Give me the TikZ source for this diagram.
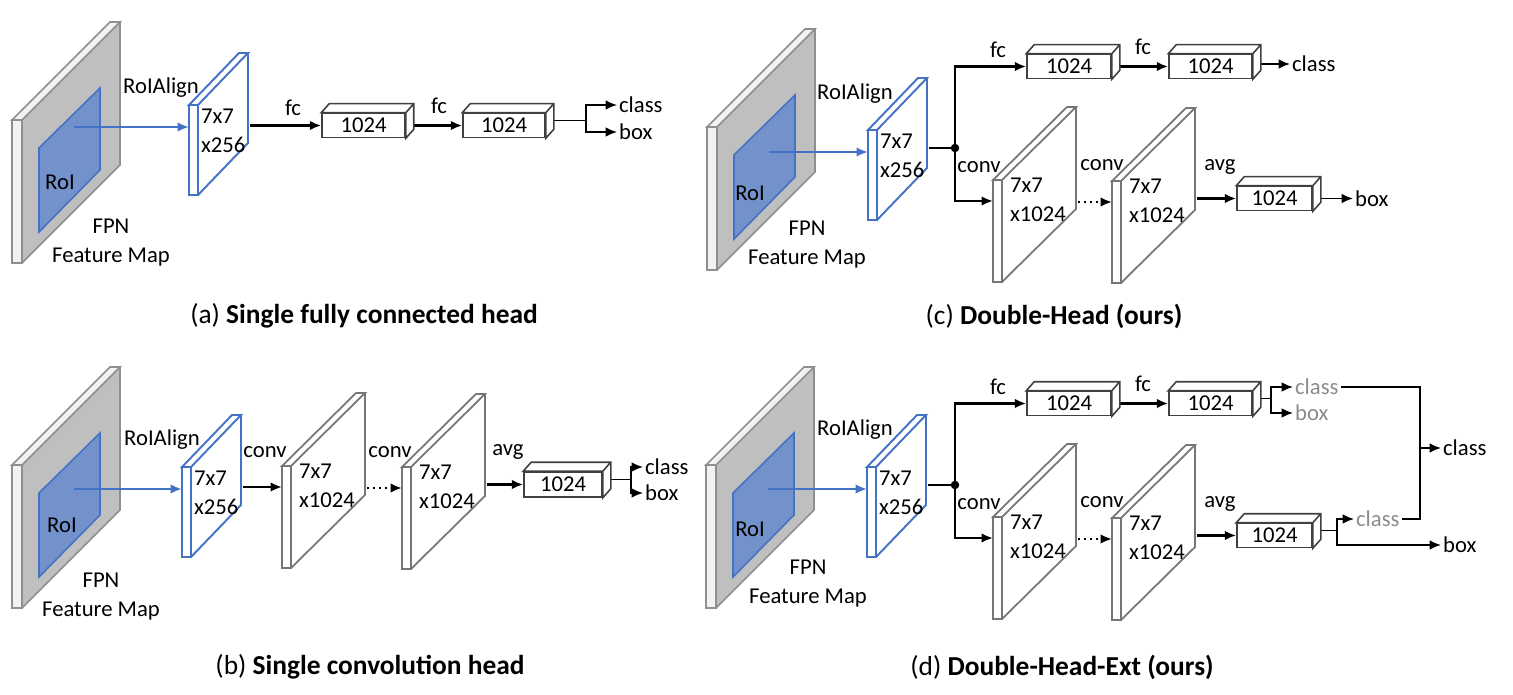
\documentclass[tikz,border=0pt]{standalone}
\usepackage{fontspec}
\setmainfont{Carlito}
\usetikzlibrary{arrows.meta}
\definecolor{roiblue}{HTML}{4472C4}
\definecolor{roifill}{HTML}{7391CB}
\definecolor{mapgray}{HTML}{BFBFBF}
\definecolor{mapside}{HTML}{F2F2F2}
\definecolor{mapedge}{HTML}{8F8F8F}
\definecolor{convedge}{HTML}{767676}
\definecolor{cubeedge}{HTML}{404040}
\definecolor{labelgray}{HTML}{8C8C8C}

\begin{document}
\begin{tikzpicture}[x=0.02cm, y=-0.02cm, >={Latex[length=6.5pt,width=5.5pt]},%
        lbl/.style={font=\fontsize{12.9}{16.5}\selectfont, inner sep=1pt},
        glbl/.style={lbl, text=labelgray},
        captxt/.style={font=\fontsize{15.6}{18}\selectfont, inner sep=0pt},
        cube/.style={lbl, draw=cubeedge, line width=0.9pt, fill=white, minimum width=1.66cm, minimum height=0.48cm},
        arr/.style={line width=1.4pt, ->},
        farr/.style={line width=0.9pt, ->},
        roiarr/.style={draw=roiblue, line width=1.3pt, ->},
        jdot/.style={circle, fill, inner sep=0pt, minimum size=0.17cm},
        fmap/.pic={
                \fill[mapgray] (10,0) -- (108,-98) -- (108,45) -- (10,143) -- cycle;
                \draw[mapedge, fill=mapside, line width=0.9pt] (0,0) rectangle (10,143) (0,0) -- (98,-98) -- (108,-98) -- (10,0) -- cycle;
                \draw[mapedge, line width=0.9pt] (108,-98) -- (108,45) -- (10,143);
                \draw[roiblue, fill=roifill, line width=0.9pt] (27,28) -- (88,-32) -- (88,50) -- (27,112) -- cycle;
                \coordinate (-roi) at (62,0);
        },
        roislab/.pic={
                \draw[roiblue, fill=white, line width=1.1pt] (0,0) rectangle (9,90) (0,0) -- (50,-52) -- (59,-52) -- (9,0) -- cycle (59,-52) -- (59,38) -- (9,90);
                \coordinate (-in) at (0,22);
                \coordinate (-out) at (61,0);
                \node[lbl, anchor=west, align=left] (-t) at (10,26) {7x7\\x256};
        },
        convslab/.pic={
                \draw[convedge, fill=white, line width=1pt] (0,0) rectangle (9,102) (0,0) -- (74,-73) -- (83,-73) -- (9,0) -- cycle (83,-73) -- (83,29) -- (9,102);
                \coordinate (-in) at (0,21);
                \coordinate (-out) at (85,21);
                \node[lbl, anchor=west, align=left] (-t) at (15,20) {7x7\\x1024};
        }]
        \useasboundingbox (0,0) rectangle (1513,695);

        % (a)
        \pic (ma) at (12,120) {fmap};
        \pic (sa) at (189,105) {roislab};
        \node[lbl] (ra) at (60,182) {RoI};
        \node[lbl] (ga) at (161,88) {RoIAlign};
        \node[lbl, align=center] (na) at (111,243) {FPN\\Feature Map};
        \node[cube] (a1) at (363.5,125.5) {1024};
        \node[cube, minimum width=1.64cm] (a2) at (504,125.5) {1024};
        \node[lbl] (fa1) at (293,108) {fc};
        \node[lbl] (fa2) at (439,106) {fc};
        \node[lbl, anchor=west] (acls) at (617,105) {class};
        \node[lbl, anchor=west] (abox) at (617,132) {box};
        \draw[roiarr] (sa-in -| ma-roi) -- (sa-in);
        \draw[arr] (a1.west -| sa-out) -- (a1.west);
        \draw[arr] ([shift={(8,0)}]a1.east) -- (a2.west);
        \draw[line width=0.9pt] ([shift={(8,-5)}]a2.east) -- ++(32,0) coordinate (ka);
        \draw[farr] (ka) |- (acls.west);
        \draw[farr] (ka) |- (abox.west);
        \node[captxt] (capa) at (364,316) {(a) \textbf{Single fully connected head}};

        % (b)
        \pic (mb) at (12,465) {fmap};
        \pic (sb) at (182,467) {roislab};
        \pic (cb1) at (282,466) {convslab};
        \pic (cb2) at (402,467) {convslab};
        \node[lbl] (rb) at (62,525) {RoI};
        \node[lbl] (gb) at (162,440) {RoIAlign};
        \node[lbl, align=center] (nb) at (101,597) {FPN\\Feature Map};
        \node[cube, minimum width=1.56cm, minimum height=0.5cm] (b1) at (563,484.5) {1024};
        \node[lbl] (vb1) at (265,452) {conv};
        \node[lbl] (vb2) at (390,452) {conv};
        \node[lbl] (vb3) at (508,452) {avg};
        \node[lbl, anchor=west] (bcls) at (643,467) {class};
        \node[lbl, anchor=west] (bbox) at (643,493) {box};
        \draw[roiarr] (sb-in -| mb-roi) -- (sb-in);
        \draw[arr] (cb1-in -| sb-out) -- (cb1-in);
        \draw[arr, dotted] (cb2-in -| cb1-out) -- (cb2-in);
        \draw[arr] (b1.west -| cb2-out) -- (b1.west);
        \draw[line width=0.9pt] ([shift={(8,-5)}]b1.east) -- ++(20,0) coordinate (kb);
        \draw[farr] (kb) |- (bcls.west);
        \draw[farr] (kb) |- (bbox.west);
        \node[captxt] (capb) at (370,667) {(b) \textbf{Single convolution head}};

        % (c)
        \pic (mc) at (707,127) {fmap};
        \pic (sc) at (868,130) {roislab};
        \pic (cc1) at (993,180) {convslab};
        \pic (cc2) at (1112,181) {convslab};
        \node[lbl] (rc) at (750,193) {RoI};
        \node[lbl] (gc) at (855,94) {RoIAlign};
        \node[lbl, align=center] (nc) at (807,245) {FPN\\Feature Map};
        \node[jdot] (jc) at (955,148) {};
        \node[cube, minimum width=1.68cm] (c1) at (1069,66.5) {1024};
        \node[cube] (c2) at (1210.5,66.5) {1024};
        \node[cube, minimum width=1.5cm] (c3) at (1274.5,198.5) {1024};
        \node[lbl] (fc1) at (998,50) {fc};
        \node[lbl] (fc2) at (1143,47) {fc};
        \node[lbl] (vc1) at (979,167) {conv};
        \node[lbl] (vc2) at (1102,165) {conv};
        \node[lbl] (vc3) at (1220,167) {avg};
        \node[lbl, anchor=west] (ccls) at (1290,64) {class};
        \node[lbl, anchor=west] (cbox) at (1353,198.5) {box};
        \draw[roiarr] (sc-in -| mc-roi) -- (sc-in);
        \draw[line width=1.4pt] (jc -| sc-out) -- (jc.center);
        \draw[arr] (jc.center) |- (c1.west);
        \draw[arr] (jc.center) |- (cc1-in);
        \draw[arr] ([shift={(8,0)}]c1.east) -- (c2.west);
        \draw[farr] (ccls.west -| c2.east) ++(8,0) -- (ccls.west);
        \draw[arr, dotted] (cc2-in -| cc1-out) -- (cc2-in);
        \draw[arr] (c3.west -| cc2-out) -- (c3.west);
        \draw[farr] ([shift={(8,0)}]c3.east) -- (cbox.west);
        \node[captxt] (capc) at (1054,316) {(c) \textbf{Double-Head (ours)}};

        % (d)
        \pic (md) at (706,465) {fmap};
        \pic (sd) at (867,467) {roislab};
        \pic (cd1) at (993,517) {convslab};
        \pic (cd2) at (1112,518) {convslab};
        \node[lbl] (rd) at (750,529) {RoI};
        \node[lbl] (gd) at (855,430) {RoIAlign};
        \node[lbl, align=center] (nd) at (808,584) {FPN\\Feature Map};
        \node[jdot] (jd) at (955,485) {};
        \node[cube, minimum width=1.68cm] (d1) at (1069,403.5) {1024};
        \node[cube] (d2) at (1210.5,403.5) {1024};
        \node[cube, minimum width=1.5cm] (d3) at (1274.5,535.5) {1024};
        \node[lbl] (fd1) at (998,387) {fc};
        \node[lbl] (fd2) at (1143,384) {fc};
        \node[lbl] (vd1) at (979,504) {conv};
        \node[lbl] (vd2) at (1102,502) {conv};
        \node[lbl] (vd3) at (1220,504) {avg};
        \node[glbl, anchor=west] (dcls1) at (1293,387) {class};
        \node[glbl, anchor=west] (dbox1) at (1293,413) {box};
        \node[glbl, anchor=west] (dcls2) at (1354,519) {class};
        \node[lbl, anchor=west] (dcls) at (1441,448) {class};
        \node[lbl, anchor=west] (dbox) at (1441,545) {box};
        \coordinate (kk) at (1420,448);
        \draw[roiarr] (sd-in -| md-roi) -- (sd-in);
        \draw[line width=1.4pt] (jd -| sd-out) -- (jd.center);
        \draw[arr] (jd.center) |- (d1.west);
        \draw[arr] (jd.center) |- (cd1-in);
        \draw[arr] ([shift={(8,0)}]d1.east) -- (d2.west);
        \draw[line width=0.9pt] ([shift={(8,-5)}]d2.east) -- ++(10,0) coordinate (kd);
        \draw[farr] (kd) |- (dcls1.west);
        \draw[farr] (kd) |- (dbox1.west);
        \draw[arr, dotted] (cd2-in -| cd1-out) -- (cd2-in);
        \draw[arr] (d3.west -| cd2-out) -- (d3.west);
        \draw[line width=0.9pt] ([shift={(8,-5)}]d3.east) -- ++(16,0) coordinate (ke);
        \draw[farr] (ke) |- (dcls2.west);
        \draw[farr] (ke) |- (dbox.west);
        \draw[line width=0.9pt] (dcls1.east) -| (kk) |- (dcls2.east);
        \draw[farr] (kk) -- (dcls.west);
        \node[captxt] (capd) at (1062,667) {(d) \textbf{Double-Head-Ext (ours)}};

        \foreach \b in {a1,a2,b1,c1,c2,c3,d1,d2,d3}
                \draw[cubeedge, line width=0.9pt, fill=white] (\b.north west) -- ++(8,-9) -- ([shift={(8,-9)}]\b.north east) -- ([shift={(8,-9)}]\b.south east) -- (\b.south east) -- (\b.north east) -- cycle (\b.north east) -- ++(8,-9);
\end{tikzpicture}
\end{document}
